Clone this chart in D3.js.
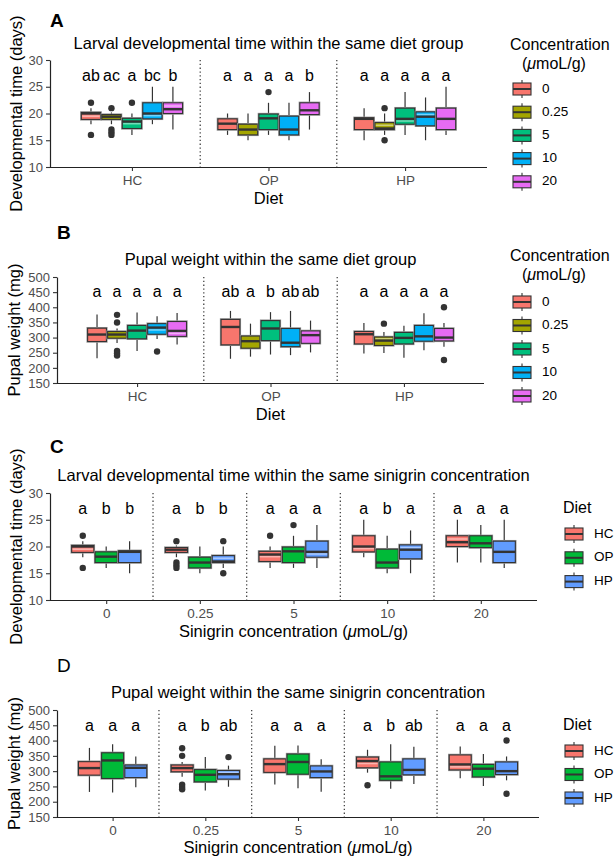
<!DOCTYPE html>
<html><head><meta charset="utf-8">
<script src="https://cdn.jsdelivr.net/npm/d3@7"></script>
<style>body{margin:0;background:#fff} svg{display:block;font-family:"Liberation Sans",Arial,sans-serif}</style>
</head><body><svg id="c" width="616" height="858"></svg>
<script>
const diets = ["HC","OP","HP"];
const concentrations = ["0","0.25","5","10","20"];
const concColors = ["#F8766D","#A3A500","#00BF7D","#00B0F6","#E76BF3"];
const dietColors = ["#F8766D","#00BA38","#619CFF"];
const larvalTicks = [10,15,20,25,30];
const pupalTicks = [150,200,250,300,350,400,450,500];

// Larval developmental time (days): one box per concentration, for each diet
const larvalHC = [
 {lo:18, q1:18.9, med:20,   q3:20.2, hi:21,   out:[22,16], lt:19.5},
 {lo:18, q1:18.9, med:19.4, q3:19.8, hi:20.2, out:[21,17,16.5,16]},
 {lo:16, q1:17.2, med:18.5, q3:19.1, hi:20,   out:[22], lt:18.1},
 {lo:18, q1:19,   med:20,   q3:22,   hi:25,   out:[], lt:19.6},
 {lo:17, q1:20,   med:20.8, q3:22,   hi:25,   out:[], lt:21.4}
];
const larvalOP = [
 {lo:16, q1:17,   med:18.1, q3:19,   hi:20, out:[]},
 {lo:15, q1:16,   med:17,   q3:18,   hi:20, out:[]},
 {lo:16, q1:17,   med:19.1, q3:19.9, hi:22, out:[24]},
 {lo:15, q1:16,   med:17,   q3:19.5, hi:22, out:[]},
 {lo:17, q1:19.8, med:20.6, q3:22,   hi:24, out:[]}
];
const larvalHP = [
 {lo:15, q1:17,   med:19,   q3:19.2, hi:21, out:[]},
 {lo:16, q1:17,   med:17.2, q3:18.3, hi:20, out:[21,15], lt:17.8},
 {lo:16, q1:18,   med:19,   q3:21,   hi:24, out:[], lt:18.6},
 {lo:15, q1:17.7, med:19.4, q3:20.3, hi:23, out:[], lt:19.8},
 {lo:16, q1:17,   med:19,   q3:21,   hi:25, out:[]}
];
// Pupal weight (mg)
const pupalHC = [
 {lo:232, q1:287, med:310, q3:331, hi:376, out:[]},
 {lo:282, q1:298, med:310, q3:320, hi:330, out:[375,350,256,248,241]},
 {lo:256, q1:296, med:323, q3:340, hi:383, out:[]},
 {lo:295, q1:311, med:333, q3:346, hi:370, out:[254], lt:325},
 {lo:277, q1:304, med:322, q3:353, hi:381, out:[], lt:314}
];
const pupalOP = [
 {lo:230, q1:276, med:335, q3:360, hi:388, out:[]},
 {lo:237, q1:265, med:288, q3:305, hi:346, out:[]},
 {lo:244, q1:290, med:330, q3:356, hi:384, out:[]},
 {lo:242, q1:270, med:283, q3:330, hi:388, out:[]},
 {lo:251, q1:281, med:308, q3:322, hi:356, out:[]}
];
const pupalHP = [
 {lo:247, q1:279, med:311, q3:320, hi:348, out:[]},
 {lo:249, q1:274, med:290, q3:302, hi:318, out:[346], lt:296},
 {lo:233, q1:279, med:299, q3:317, hi:339, out:[]},
 {lo:258, q1:288, med:304, q3:340, hi:380, out:[]},
 {lo:270, q1:289, med:300, q3:330, hi:348, out:[400,226]}
];
const larval = [larvalHC, larvalOP, larvalHP];
const pupal = [pupalHC, pupalOP, pupalHP];

const lettersA = [["ab","ac","a","bc","b"],["a","a","a","a","b"],["a","a","a","a","a"]];
const lettersB = [["a","a","a","a","a"],["ab","a","b","ab","ab"],["a","a","a","a","a"]];
const lettersC = [["a","b","b"],["a","b","b"],["a","a","a"],["a","b","a"],["a","a","a"]];
const lettersD = [["a","a","a"],["a","b","ab"],["a","a","a"],["a","b","ab"],["a","a","a"]];

const svg = d3.select("#c");
const FONT = '"Liberation Sans",Arial,sans-serif';
const LINE = "#333333";

// write text, putting the Greek mu in italics
function richText(sel, str){
  str.split(/(\u03bc)/).forEach(part=>{
    if(!part) return;
    const t = sel.append("tspan").text(part);
    if(part==="\u03bc") t.attr("font-style","italic");
  });
  return sel;
}

function panel(o){
  const g = svg.append("g");
  const x = d3.scalePoint().domain(o.groups).range([o.x0,o.x1]).padding(0.6);
  const step = x.step();
  const inner = d3.scaleBand().domain(o.inner).range([-0.375*step, 0.375*step]);
  const y = d3.scaleLinear().domain(o.yDomain).range([o.yBottom,o.yTop]);
  const bw = inner.bandwidth();

  // dividers
  o.groups.slice(0,-1).forEach(gr=>{
    g.append("line").attr("x1",x(gr)+step/2).attr("x2",x(gr)+step/2)
     .attr("y1",o.yTop).attr("y2",o.yBottom)
     .attr("stroke","#444").attr("stroke-width",1.3).attr("stroke-dasharray","1.3,2.5");
  });

  o.groups.forEach((gr,gi)=>{
    o.inner.forEach((inn,ii)=>{
      const s = o.stats(gi,ii);
      const cx = x(gr)+inner(inn)+bw/2;
      const col = o.colors(gi,ii);
      g.append("line").attr("x1",cx).attr("x2",cx).attr("y1",y(s.hi)).attr("y2",y(s.q3)).attr("stroke",LINE).attr("stroke-width",1.2);
      g.append("line").attr("x1",cx).attr("x2",cx).attr("y1",y(s.q1)).attr("y2",y(s.lo)).attr("stroke",LINE).attr("stroke-width",1.2);
      g.append("rect").attr("x",cx-bw/2+0.6).attr("y",y(s.q3)).attr("width",bw-1.2).attr("height",y(s.q1)-y(s.q3))
       .attr("fill",col).attr("stroke","#9a9a9a").attr("stroke-width",2.4);
      g.append("rect").attr("x",cx-bw/2+0.6).attr("y",y(s.q3)).attr("width",bw-1.2).attr("height",y(s.q1)-y(s.q3))
       .attr("fill",col).attr("stroke",LINE).attr("stroke-width",1.1);
      if (s.lt!==undefined){
        g.append("line").attr("x1",cx-bw/2+1.5).attr("x2",cx+bw/2-1.5).attr("y1",y(s.lt)).attr("y2",y(s.lt))
         .attr("stroke",d3.interpolateRgb(col,"#ffffff")(0.45)).attr("stroke-width",1.6);
      }
      g.append("line").attr("x1",cx-bw/2+0.6).attr("x2",cx+bw/2-0.6).attr("y1",y(s.med)).attr("y2",y(s.med))
       .attr("stroke",LINE).attr("stroke-width",2.4);
      s.out.forEach(v=> g.append("circle").attr("cx",cx).attr("cy",y(v)).attr("r",3.2).attr("fill",LINE));
      g.append("text").attr("x",cx).attr("y",y(o.letterY)).attr("text-anchor","middle").attr("dominant-baseline","middle")
       .attr("font-size",16).attr("fill","#000").attr("font-family",FONT).text(o.letters[gi][ii]);
    });
  });

  // axes
  const ya = g.append("g").attr("transform",`translate(${o.x0},0)`)
    .call(d3.axisLeft(y).tickValues(o.ticks).tickSize(4).tickSizeOuter(0).tickPadding(3));
  const xa = g.append("g").attr("transform",`translate(0,${o.yBottom})`)
    .call(d3.axisBottom(x).tickSize(4).tickSizeOuter(0).tickPadding(4));
  [ya,xa].forEach(a=>{
    a.attr("font-family",FONT);
    a.select(".domain").attr("stroke","#222").attr("stroke-width",1.2);
    a.selectAll(".tick line").attr("stroke","#333").attr("stroke-width",1.1);
    a.selectAll("text").attr("font-size",13.5).attr("fill","#4d4d4d");
  });
  ya.selectAll("text").attr("font-size",13);
  xa.select(".domain").attr("d",`M${o.x0},0.5H${o.x1}`);

  // texts
  g.append("text").attr("x",o.x0).attr("y",o.letterBase).attr("font-size",19).attr("font-family",FONT).attr("font-weight",o.bold?"bold":"normal").text(o.tag);
  g.append("text").attr("x",(o.x0+o.x1)/2).attr("y",o.titleBase).attr("text-anchor","middle").attr("font-size",16.5).attr("font-family",FONT).text(o.title);
  richText(g.append("text").attr("x",(o.x0+o.x1)/2).attr("y",o.xlabBase).attr("text-anchor","middle").attr("font-size",16.5).attr("font-family",FONT), o.xlab);
  g.append("text").attr("transform",`translate(${o.ylabX},${(o.yTop+o.yBottom)/2}) rotate(-90)`).attr("text-anchor","middle").attr("font-size",16.5).attr("font-family",FONT).text(o.ylab);

  // legend
  const L = o.legend;
  L.titleLines.forEach((t,i)=> richText(g.append("text").attr("x",L.titleX[i]).attr("y",L.titleY[i]).attr("font-size",16).attr("font-family",FONT), t));
  L.labels.forEach((lab,i)=>{
    const cy = L.y0 + i*L.dy;
    const kx = L.x;
    g.append("line").attr("x1",kx+9).attr("x2",kx+9).attr("y1",cy-9).attr("y2",cy+9).attr("stroke",LINE).attr("stroke-width",1.1);
    g.append("rect").attr("x",kx).attr("y",cy-6).attr("width",18).attr("height",12).attr("fill",L.colors[i]).attr("stroke",LINE).attr("stroke-width",1.1);
    g.append("line").attr("x1",kx).attr("x2",kx+18).attr("y1",cy).attr("y2",cy).attr("stroke",LINE).attr("stroke-width",2);
    g.append("text").attr("x",kx+29).attr("y",cy).attr("dominant-baseline","middle").attr("font-size",13.5).attr("font-family",FONT).text(lab);
  });
}

panel({groups:diets, inner:concentrations, x0:50, x1:487, yTop:60, yBottom:167, yDomain:[10,30], ticks:larvalTicks,
  stats:(gi,ii)=>larval[gi][ii], colors:(gi,ii)=>concColors[ii], letters:lettersA, letterY:26.8,
  tag:"A", bold:true, letterBase:27, title:"Larval developmental time within the same diet group", titleBase:49,
  xlab:"Diet", xlabBase:204, ylab:"Developmental time (days)", ylabX:22,
  legend:{titleLines:["Concentration","(\u03bcmoL/g)"], titleX:[510,522], titleY:[50,69], x:513, y0:89, dy:23.2, colors:concColors, labels:concentrations}});

panel({groups:diets, inner:concentrations, x0:57, x1:484, yTop:277, yBottom:383, yDomain:[150,500], ticks:pupalTicks,
  stats:(gi,ii)=>pupal[gi][ii], colors:(gi,ii)=>concColors[ii], letters:lettersB, letterY:447,
  tag:"B", bold:true, letterBase:239, title:"Pupal weight within the same diet group", titleBase:265,
  xlab:"Diet", xlabBase:420, ylab:"Pupal weight (mg)", ylabX:20,
  legend:{titleLines:["Concentration","(\u03bcmoL/g)"], titleX:[510,522], titleY:[261,280], x:513, y0:302, dy:23.5, colors:concColors, labels:concentrations}});

panel({groups:concentrations, inner:diets, x0:50, x1:537, yTop:493, yBottom:600, yDomain:[10,30], ticks:larvalTicks,
  stats:(gi,ii)=>larval[ii][gi], colors:(gi,ii)=>dietColors[ii], letters:lettersC, letterY:26.8,
  tag:"C", bold:true, letterBase:453, title:"Larval developmental time within the same sinigrin concentration", titleBase:481,
  xlab:"Sinigrin concentration (\u03bcmoL/g)", xlabBase:637, ylab:"Developmental time (days)", ylabX:22,
  legend:{titleLines:["Diet"], titleX:[563], titleY:[513], x:565, y0:534, dy:23.8, colors:dietColors, labels:diets}});

panel({groups:concentrations, inner:diets, x0:57, x1:539, yTop:710, yBottom:817, yDomain:[150,500], ticks:pupalTicks,
  stats:(gi,ii)=>pupal[ii][gi], colors:(gi,ii)=>dietColors[ii], letters:lettersD, letterY:445,
  tag:"D", bold:false, letterBase:672, title:"Pupal weight within the same sinigrin concentration", titleBase:698,
  xlab:"Sinigrin concentration (\u03bcmoL/g)", xlabBase:853, ylab:"Pupal weight (mg)", ylabX:20,
  legend:{titleLines:["Diet"], titleX:[563], titleY:[730], x:565, y0:751, dy:23.5, colors:dietColors, labels:diets}});
</script></body></html>
